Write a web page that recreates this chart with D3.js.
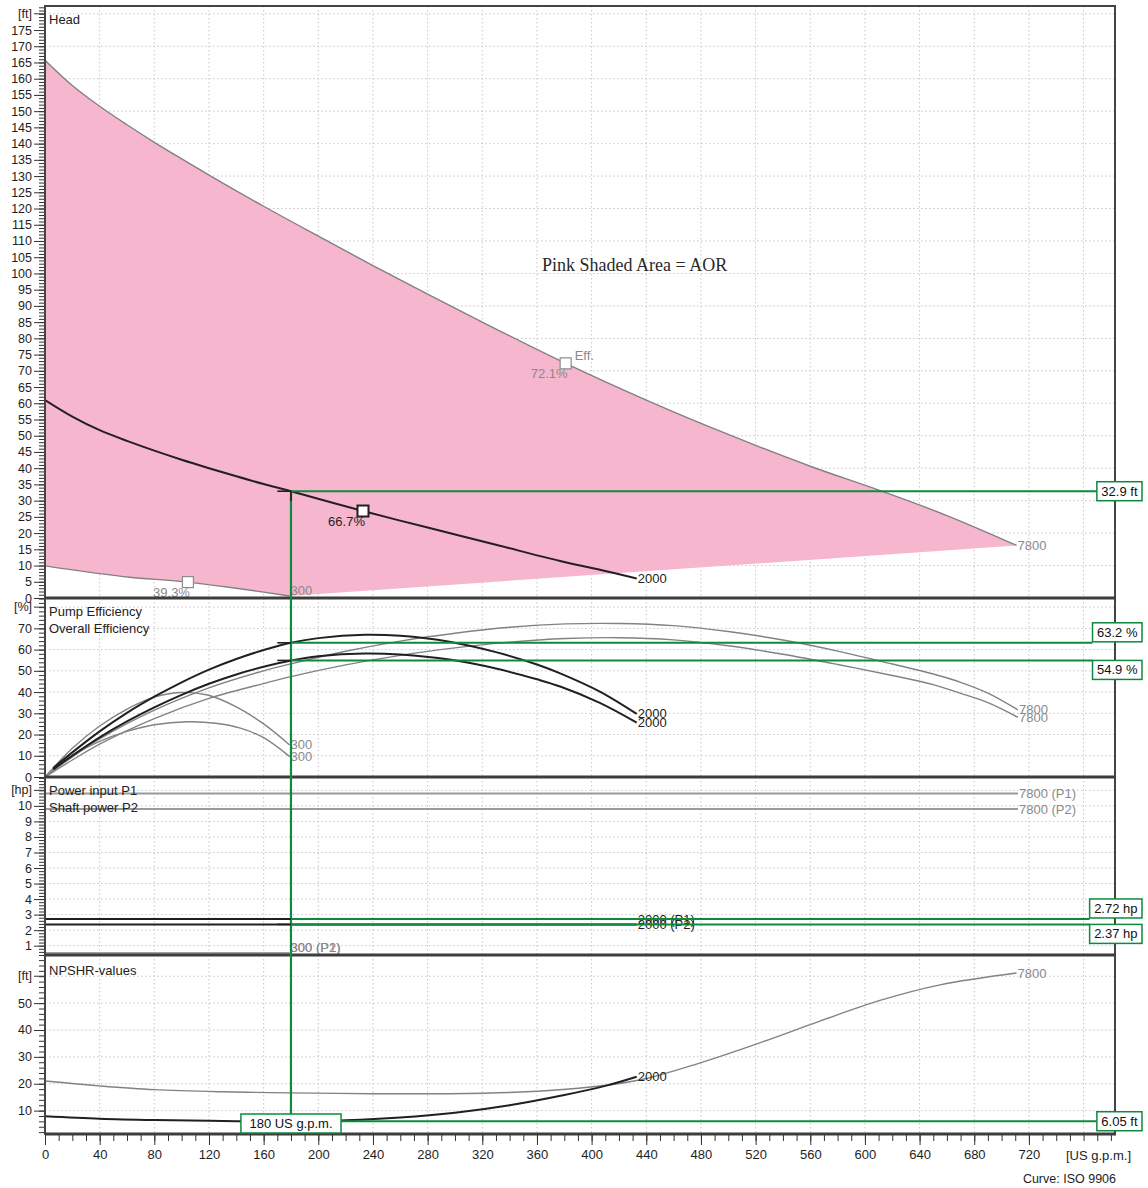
<!DOCTYPE html>
<html><head><meta charset="utf-8">
<script src="https://cdn.jsdelivr.net/npm/d3@7"></script>
<style>
html,body{margin:0;padding:0;background:#fff;}
svg{display:block;font-family:"Liberation Sans",Arial,sans-serif;}
</style></head><body>
<svg id="chart" width="1148" height="1188"></svg>
<script>
// ---------- flow axis (US g.p.m.) ----------
const flowTicks = d3.range(0, 721, 40);
const flowMinor = d3.range(0, 781, 10);
const flowGrid = d3.range(40, 761, 40);
const dutyFlow = 180;

// ---------- head panel [flow, ft] ----------
const headTicks = d3.range(0, 176, 5);
const headMinor = d3.range(0, 183, 1);
const headGrid = d3.range(10, 181, 10);
const head7800 = [[0,165.7],[20,157.9],[40,151.5],[60,145.8],[80,140.4],[100,135.3],[120,130.3],[160,120.7],[200,111.5],[240,102.4],[280,93.6],[320,85.0],[381,72.3],[440,61.0],[500,50.4],[560,40.6],[611,33.1],[660,25.4],[711,16.2]];
const head2000 = [[0,61.0],[20,55.9],[40,51.7],[62,48.1],[80,45.4],[100,42.6],[120,40.0],[140,37.5],[160,35.1],[180,32.9],[232.7,26.8],[280,21.7],[330,16.4],[377,11.4],[410,8.3],[433,6.0]];
const head300 = [[0,9.9],[40,7.5],[62,6.4],[104.6,4.9],[140,3.0],[179,0.6]];
const headMarkers = [
  {flow:381, head:72.3, label:"72.1%", tag:"Eff.", dark:false},
  {flow:104.6, head:4.9, label:"39.3%", tag:"", dark:false},
  {flow:232.7, head:26.8, label:"66.7%", tag:"", dark:true}
];
const dutyHead = 32.9;

// ---------- efficiency panel [flow, %] ----------
const effTicks = d3.range(0, 71, 10);
const effMinor = d3.range(0, 85, 2);
const effGrid = d3.range(10, 81, 10);
const effPump7800 = [[0,0],[20,9.5],[40,18],[80,31.5],[120,42],[160,50],[180,53.3],[220,59.2],[260,64],[300,67.7],[340,70.5],[381,72.1],[420,72.3],[460,71.3],[500,68.5],[540,64.5],[580,59.3],[620,53.2],[650,48.5],[670,44.6],[690,39.5],[712,31.6]];
const effOverall7800 = [[0,0],[20,8],[40,15.5],[80,27.5],[120,37],[160,44],[180,47.3],[220,52.8],[260,57.3],[300,60.8],[340,63.5],[381,65.2],[420,65.6],[460,64.6],[500,61.8],[540,57.8],[580,53],[620,47.8],[650,43.5],[670,39.4],[690,35],[712,28.1]];
const effPump2000 = [[6,4.2],[20,11.6],[40,21.5],[60,30.2],[80,37.8],[100,44.6],[120,50.6],[140,55.6],[160,59.8],[180,63.2],[200,65.4],[234,67.0],[260,66.5],[296,63.7],[330,58.8],[360,53.0],[377,48.8],[406,40.2],[433,29.7]];
const effOverall2000 = [[6,3.6],[20,10.1],[40,18.7],[60,26.2],[80,32.8],[100,38.7],[120,43.9],[140,48.3],[160,51.9],[180,54.9],[200,56.9],[234,58.2],[260,57.7],[296,55.3],[330,51.1],[360,46.0],[377,42.6],[406,34.9],[433,25.6]];
const effPump300 = [[0,0],[20,13.5],[40,24],[60,32],[80,37.6],[99,39.8],[119,38.6],[140,33],[160,25],[179,15.1]];
const effOverall300 = [[0,0],[20,10],[40,16.8],[60,21.5],[80,24.6],[104,26],[125,25.3],[143,23],[160,18.5],[179,9.6]];
const dutyEff = [63.2, 54.9];

// ---------- power panel [flow, hp] ----------
const powerTicks = d3.range(1, 11, 1);
const powerMinor = d3.range(2, 60).map(i => i / 5);
const powerGrid = d3.range(1, 12, 1);
const powerP1_7800 = [[0,10.8],[712,10.8]];
const powerP2_7800 = [[0,9.8],[712,9.8]];
const powerP1_2000 = [[0,2.72],[433,2.72]];
const powerP2_2000 = [[0,2.37],[433,2.37]];
const powerP1_300 = [[0,0.52],[179,0.52]];
const powerP2_300 = [[0,0.47],[179,0.47]];
const dutyPower = [2.72, 2.37];

// ---------- NPSH panel [flow, ft] ----------
const npshTicks = d3.range(10, 51, 10);
const npshMinor = d3.range(2, 68, 2);
const npshGrid = d3.range(10, 61, 10);
const npsh7800 = [[0,21.0],[40,19.2],[80,17.8],[130,17.0],[179,16.6],[240,16.3],[296,16.3],[348,16.9],[390,18.3],[435,21.4],[479,27.7],[523,35.2],[567,43.3],[611,51.0],[655,56.8],[711,61.2]];
const npsh2000 = [[0,7.9],[40,7.0],[80,6.5],[120,6.2],[150,6.05],[180,6.05],[220,6.4],[260,7.4],[300,9.2],[340,12.0],[380,15.8],[410,19.2],[433,22.6]];
const dutyNpsh = 6.05;

// ---------- colours ----------
const GREY = "#828282", GREY_TXT = "#8a8a8a", DARK = "#231f20", GREEN = "#0d8a3e", PINK = "#f6b6ce";

const svg = d3.select("#chart");
const X0 = 45, X1 = 1115;
const x = d3.scaleLinear().domain([0, 783]).range([X0, X1]);

const layers = {
  plot: svg.append("g"),
  labels: svg.append("g"),
  frame: svg.append("g"),
  duty: svg.append("g"),
  boxes: svg.append("g"),
  axes: svg.append("g")
};

function panel(id, domain, top, bottom) {
  const y = d3.scaleLinear().domain(domain).range([bottom, top]);
  svg.append("clipPath").attr("id", "clip-" + id)
    .append("rect").attr("x", X0).attr("y", top).attr("width", X1 - X0).attr("height", bottom - top);
  const g = layers.plot.append("g").attr("clip-path", `url(#clip-${id})`);
  return {y, g, top, bottom};
}
const P = {
  head: panel("head", [0, 182.4], 6, 598),
  eff: panel("eff", [0, 84.3], 598, 777),
  power: panel("power", [0.4, 11.86], 777, 955),
  npsh: panel("npsh", [1.3, 67.9], 955, 1134)
};

// dotted grid
function grid(p, hVals) {
  const gg = p.g.append("g").attr("stroke", "#c6c6c6").attr("stroke-width", 1).attr("stroke-dasharray", "1.5,2.5");
  gg.selectAll(".v").data(flowGrid).join("line")
    .attr("x1", d => x(d)).attr("x2", d => x(d)).attr("y1", p.top).attr("y2", p.bottom);
  gg.selectAll(".h").data(hVals).join("line")
    .attr("x1", X0).attr("x2", X1).attr("y1", d => p.y(d)).attr("y2", d => p.y(d));
}
grid(P.head, headGrid); grid(P.eff, effGrid); grid(P.power, powerGrid); grid(P.npsh, npshGrid);

const lineOf = (p) => d3.line().x(d => x(d[0])).y(d => p.y(d[1])).curve(d3.curveCatmullRom.alpha(0.5));
function curve(p, data, color, width) {
  p.g.append("path").attr("d", lineOf(p)(data)).attr("fill", "none")
    .attr("stroke", color).attr("stroke-width", width).attr("stroke-linejoin", "round");
}

// ---------- head: allowable operating region ----------
{
  const ln = lineOf(P.head);
  const e3 = head300[head300.length - 1];
  const upper = ln(head7800);
  const lower = ln(head300.slice().reverse()).replace(/^M/, "L");
  const d = upper + `L${x(e3[0])},${P.head.y(e3[1])}` + lower + `L${x(0)},${P.head.y(head7800[0][1])}Z`;
  P.head.g.append("path").attr("d", d).attr("fill", PINK);
  curve(P.head, head7800, GREY, 1.4);
  curve(P.head, head300, GREY, 1.4);
  curve(P.head, head2000, DARK, 2);
  layers.labels.append("text").attr("x", 542).attr("y", 271)
    .attr("font-family", "'Liberation Serif','Times New Roman',serif")
    .attr("font-size", 18).attr("fill", "#2a2a2a").text("Pink Shaded Area = AOR");
}

// ---------- efficiency ----------
[effPump7800, effOverall7800, effPump300, effOverall300].forEach(c => curve(P.eff, c, GREY, 1.4));
[effPump2000, effOverall2000].forEach(c => curve(P.eff, c, DARK, 2));

// ---------- power ----------
[powerP1_7800, powerP2_7800].forEach(c => curve(P.power, c, "#9a9a9a", 2));
[powerP1_300, powerP2_300].forEach(c => curve(P.power, c, "#a0a0a0", 2.5));
[powerP1_2000, powerP2_2000].forEach(c => curve(P.power, c, DARK, 2));

// ---------- NPSH ----------
curve(P.npsh, npsh7800, GREY, 1.4);
curve(P.npsh, npsh2000, DARK, 2);

// ---------- curve end labels ----------
function endLabel(p, data, text, color, dy) {
  const e = data[data.length - 1];
  layers.labels.append("text").attr("x", x(e[0]) + 1).attr("y", p.y(e[1]) + (dy || 0)).attr("dy", "0.35em")
    .attr("font-size", 13).attr("fill", color).text(text);
}
endLabel(P.head, head7800, "7800", GREY_TXT);
endLabel(P.head, head2000, "2000", DARK);
endLabel(P.head, head300, "300", GREY_TXT, -6);
endLabel(P.eff, effPump7800, "7800", GREY_TXT);
endLabel(P.eff, effOverall7800, "7800", GREY_TXT);
endLabel(P.eff, effPump2000, "2000", DARK);
endLabel(P.eff, effOverall2000, "2000", DARK);
endLabel(P.eff, effPump300, "300", GREY_TXT);
endLabel(P.eff, effOverall300, "300", GREY_TXT);
endLabel(P.power, powerP1_7800, "7800 (P1)", GREY_TXT);
endLabel(P.power, powerP2_7800, "7800 (P2)", GREY_TXT);
endLabel(P.power, powerP1_2000, "2000 (P1)", DARK);
endLabel(P.power, powerP2_2000, "2000 (P2)", DARK);
endLabel(P.power, powerP1_300, "300 (P1)", GREY_TXT, -6);
endLabel(P.power, powerP2_300, "300 (P2)", GREY_TXT, -6);
endLabel(P.npsh, npsh7800, "7800", GREY_TXT);
endLabel(P.npsh, npsh2000, "2000", DARK);

// ---------- head markers ----------
headMarkers.forEach(m => {
  const mx = x(m.flow), my = P.head.y(m.head);
  layers.labels.append("rect").attr("x", mx - 5.5).attr("y", my - 5.5).attr("width", 11).attr("height", 11)
    .attr("fill", "#fff").attr("stroke", m.dark ? DARK : "#8c8c8c").attr("stroke-width", m.dark ? 2 : 1.2);
  layers.labels.append("text").attr("x", mx + 2).attr("y", my + 15).attr("text-anchor", "end")
    .attr("font-size", 13).attr("fill", m.dark ? DARK : GREY_TXT).text(m.label);
  if (m.tag) layers.labels.append("text").attr("x", mx + 9).attr("y", my - 3)
    .attr("font-size", 13).attr("fill", GREY_TXT).text(m.tag);
});

// ---------- panel titles ----------
const titles = [["Head", 24], ["Pump Efficiency", 616], ["Overall Efficiency", 633],
  ["Power input P1", 795], ["Shaft power P2", 812], ["NPSHR-values", 975]];
layers.labels.selectAll(".title").data(titles).join("text").attr("x", 49).attr("y", d => d[1])
  .attr("font-size", 13).attr("fill", "#222").text(d => d[0]);

// ---------- frame ----------
layers.frame.append("rect").attr("x", X0).attr("y", 6).attr("width", X1 - X0).attr("height", 1134 - 6)
  .attr("fill", "none").attr("stroke", "#444").attr("stroke-width", 2);
[598, 777, 955, 1134].forEach(v => layers.frame.append("line").attr("x1", X0).attr("x2", X1 + 1)
  .attr("y1", v).attr("y2", v).attr("stroke", "#3d3d3d").attr("stroke-width", 3));

// ---------- duty point: green reference lines and value boxes ----------
const BOX_R = 1142, BOX_H = 19;
function valueBox(text, xr, ytop, centerX, pad) {
  const padX = pad || 4.5;
  const g = layers.boxes.append("g");
  const t = g.append("text").attr("font-size", 13).attr("fill", "#111").text(text);
  const w = t.node().getComputedTextLength() + 2 * padX;
  const left = centerX != null ? centerX - w / 2 : xr - w;
  g.insert("rect", "text").attr("x", left).attr("y", ytop).attr("width", w).attr("height", BOX_H)
    .attr("fill", "#fff").attr("stroke", GREEN).attr("stroke-width", 1.5);
  t.attr("x", left + padX).attr("y", ytop + 14);
  return left;
}
function dutyH(p, val, label, place) {
  const yl = p.y(val);
  const ytop = place === "above" ? yl - BOX_H - 1 : place === "below" ? yl : yl - BOX_H / 2;
  const left = valueBox(label, BOX_R, ytop);
  layers.duty.append("line").attr("x1", x(dutyFlow)).attr("x2", left).attr("y1", yl).attr("y2", yl)
    .attr("stroke", GREEN).attr("stroke-width", 2);
  // short dark tick just left of the duty flow
  layers.duty.append("line").attr("x1", x(dutyFlow - 10)).attr("x2", x(dutyFlow)).attr("y1", yl).attr("y2", yl)
    .attr("stroke", DARK).attr("stroke-width", 1.6);
}
const flowBoxTop = 1114;
layers.duty.append("line").attr("x1", x(dutyFlow)).attr("x2", x(dutyFlow))
  .attr("y1", P.head.y(dutyHead)).attr("y2", flowBoxTop).attr("stroke", GREEN).attr("stroke-width", 2.2);
dutyH(P.head, dutyHead, `${dutyHead} ft`, "mid");
dutyH(P.eff, dutyEff[0], `${dutyEff[0]} %`, "above");
dutyH(P.eff, dutyEff[1], `${dutyEff[1]} %`, "below");
dutyH(P.power, dutyPower[0], `${dutyPower[0]} hp`, "above");
dutyH(P.power, dutyPower[1], `${dutyPower[1]} hp`, "below");
dutyH(P.npsh, dutyNpsh, `${dutyNpsh} ft`, "mid");
layers.duty.append("line").attr("x1", x(dutyFlow)).attr("x2", x(dutyFlow))
  .attr("y1", P.head.y(dutyHead)).attr("y2", P.head.y(dutyHead - 3)).attr("stroke", DARK).attr("stroke-width", 1.6);
valueBox(`${dutyFlow} US g.p.m.`, null, flowBoxTop, x(dutyFlow), 8.5);

// ---------- left axes ----------
function styleAxis(g, size) {
  g.selectAll(".domain").remove();
  g.selectAll("line").attr("stroke", "#333");
  g.selectAll("text").attr("font-size", size).attr("fill", "#1e1e1e")
    .attr("font-family", "'Liberation Sans',Arial,sans-serif");
}
function leftAxis(p, major, minor, unitVal, unit) {
  const gm = layers.axes.append("g").attr("transform", `translate(${X0 - 1},0)`)
    .call(d3.axisLeft(p.y).tickValues(minor).tickSize(5).tickFormat(""));
  styleAxis(gm, 12.5);
  const gM = layers.axes.append("g").attr("transform", `translate(${X0 - 1},0)`)
    .call(d3.axisLeft(p.y).tickValues(major).tickSize(10).tickPadding(2));
  styleAxis(gM, 12.5);
  gM.append("line").attr("x1", -10).attr("x2", 0).attr("y1", p.y(unitVal)).attr("y2", p.y(unitVal)).attr("stroke", "#333");
  gM.append("text").attr("x", -12).attr("y", p.y(unitVal)).attr("dy", "0.32em").attr("text-anchor", "end")
    .attr("font-size", 12.5).attr("fill", "#1e1e1e").text(unit);
}
leftAxis(P.head, headTicks, headMinor, 180, "[ft]");
leftAxis(P.eff, effTicks, effMinor, 80, "[%]");
leftAxis(P.power, powerTicks, powerMinor, 11, "[hp]");
leftAxis(P.npsh, npshTicks, npshMinor, 60, "[ft]");

// ---------- bottom axis ----------
{
  const gm = layers.axes.append("g").attr("transform", "translate(0,1135)")
    .call(d3.axisBottom(x).tickValues(flowMinor).tickSize(6).tickFormat(""));
  styleAxis(gm, 13);
  const gM = layers.axes.append("g").attr("transform", "translate(0,1135)")
    .call(d3.axisBottom(x).tickValues(flowTicks).tickSize(10).tickPadding(5));
  styleAxis(gM, 13);
  layers.axes.append("text").attr("x", 1066).attr("y", 1160).attr("font-size", 13).attr("fill", "#1e1e1e").text("[US g.p.m.]");
  layers.axes.append("text").attr("x", 1116).attr("y", 1183).attr("text-anchor", "end").attr("font-size", 12.5)
    .attr("fill", "#1e1e1e").text("Curve: ISO 9906");
}
</script>
</body></html>
